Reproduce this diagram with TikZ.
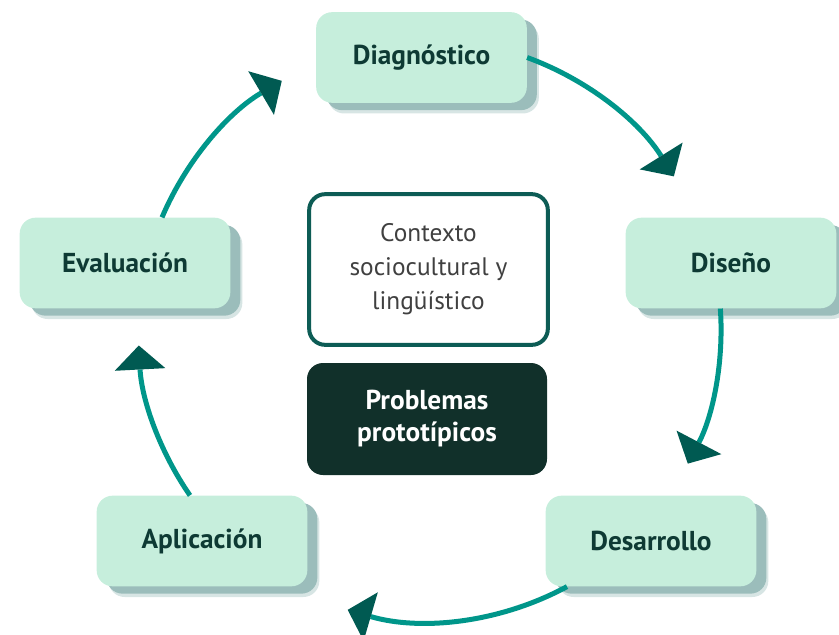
\documentclass[tikz,border=0pt]{standalone}
\usepackage{fontspec}
\setmainfont{PT Sans}
\usetikzlibrary{arrows.meta,shadows}
\definecolor{mint}{HTML}{C6EEDC}
\definecolor{shade}{HTML}{9BBDBB}
\definecolor{labeltext}{HTML}{0E3A34}
\definecolor{ringline}{HTML}{00968A}
\definecolor{tipdark}{HTML}{005A52}
\definecolor{framecol}{HTML}{0D5C55}
\definecolor{corefill}{HTML}{11302A}
\definecolor{greytext}{HTML}{404040}
\begin{document}
\begin{tikzpicture}[x=0.75pt,y=-0.75pt,
    stage/.style={rectangle, rounded corners=12pt, fill=mint,
        minimum width=158pt, minimum height=68pt, text=labeltext,
        font=\fontsize{20.5}{24}\selectfont\bfseries,
        drop shadow={shadow xshift=9pt, shadow yshift=-8pt, fill=shade, opacity=0.4},
        drop shadow={shadow xshift=7.5pt, shadow yshift=-5.5pt, fill=shade, opacity=1}},
    contextbox/.style={rectangle, rounded corners=12pt, draw=framecol, line width=3pt,
        fill=white, minimum width=179pt, minimum height=113pt, align=center,
        text=greytext, font=\fontsize{19}{25.5}\selectfont},
    corebox/.style={rectangle, rounded corners=12pt, fill=corefill,
        minimum width=180pt, minimum height=84pt, align=center,
        text=white, font=\fontsize{20.5}{24}\selectfont\bfseries},
    loopline/.style={draw=ringline, line width=3.75pt,
        -{Triangle[length=18pt, width=38pt, line width=0pt, color=tipdark]}}]
    \useasboundingbox (0,0) rectangle (839,635);

    \node[stage] (diag) at (421.5,57.5) {Diagnóstico};
    \node[stage] (dise) at (731,263) {Diseño};
    \node[stage] (desa) at (651,541) {Desarrollo};
    \node[stage] (apli) at (202,541) {Aplicación};
    \node[stage] (eval) at (125,263) {Evaluación};

    \node[contextbox] (ctx) at (428.5,269.5) {Contexto\\ sociocultural y\\ lingüístico};
    \node[corebox] (prob) at (427,419) {Problemas\\ prototípicos};

    \draw[loopline] (diag.east) arc[start angle=-70, end angle=-32, radius=290];
    \draw[loopline] ([xshift=-8pt]dise.south) arc[start angle=-4, end angle=27.7, radius=290];
    \draw[loopline] ([xshift=-63pt]desa.south) arc[start angle=61.6, end angle=106.3, radius=290];
    \draw[loopline] ([xshift=-9pt]apli.north) arc[start angle=145.3, end angle=177, radius=290];
    \draw[loopline] ([xshift=27.75pt]eval.north) arc[start angle=203, end angle=239.5, radius=290];
\end{tikzpicture}
\end{document}
